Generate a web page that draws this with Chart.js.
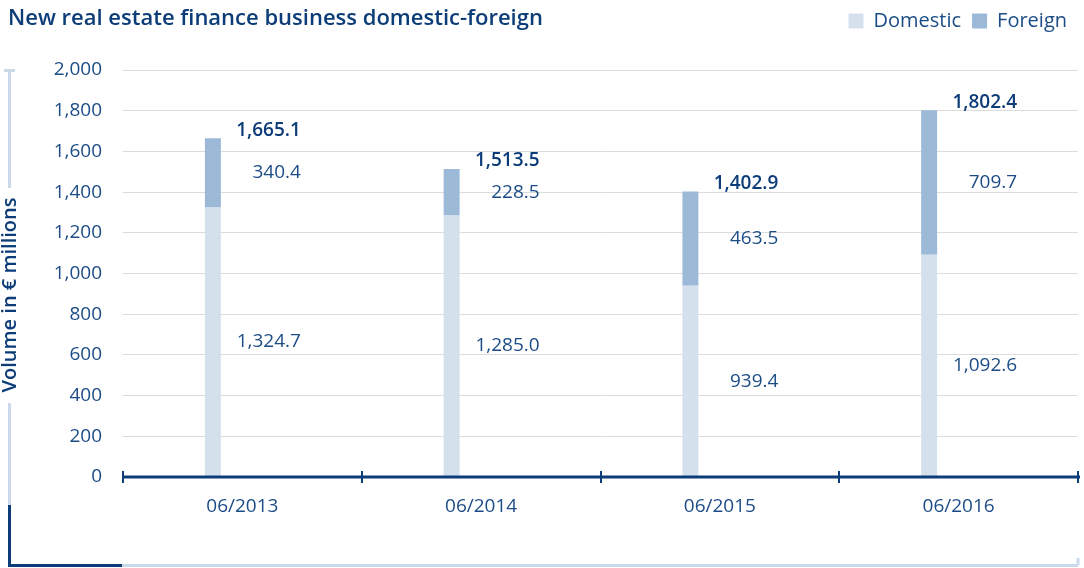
<!DOCTYPE html>
<html>
<head>
<meta charset="utf-8">
<script src="https://cdn.jsdelivr.net/npm/chart.js@4.4.1/dist/chart.umd.min.js"></script>
<style>
  html, body { margin: 0; padding: 0; background: #fff; }
  #wrap { width: 1084px; height: 568px; position: relative; }
</style>
</head>
<body>
<div id="wrap"><canvas id="myChart"></canvas></div>
<script>
const categories = ['06/2013', '06/2014', '06/2015', '06/2016'];
const domestic = [1324.7, 1285.0, 939.4, 1092.6];
const foreign = [340.4, 228.5, 463.5, 709.7];
const totals = [1665.1, 1513.5, 1402.9, 1802.4];
const yMin = 0, yMax = 2000, yStep = 200;

const FONT = '"Open Sans", "Noto Sans", sans-serif';
const DARK = '#0d3d78';
const TEXT = '#1c4c86';
const LIGHT = '#cbdaea';

const fmt = v => v.toLocaleString('en-US', { minimumFractionDigits: 1, maximumFractionDigits: 1 });

// push the plot down below the legend row
const legendGap = {
    id: 'legendGap',
    beforeInit(chart) {
        const fit = chart.legend.fit;
        chart.legend.fit = function () {
            fit.bind(chart.legend)();
            this.height += 29;
        };
    }
};

// title, y axis caption and the frame lines round the chart
const framePlugin = {
    id: 'frame',
    afterDraw(chart) {
        const { ctx, chartArea: { left, right, bottom } } = chart;
        ctx.save();
        ctx.fillStyle = DARK;
        ctx.font = '600 22px ' + FONT;
        ctx.textBaseline = 'alphabetic';
        ctx.fillText('New real estate finance business domestic-foreign', 8, 25);

        // y caption
        ctx.save();
        ctx.translate(10, 295);
        ctx.rotate(-Math.PI / 2);
        ctx.textAlign = 'center';
        ctx.textBaseline = 'middle';
        ctx.font = '600 20px ' + FONT;
        ctx.fillText('Volume in \u20ac millions', 0, 0);
        ctx.restore();

        ctx.lineWidth = 3;
        ctx.strokeStyle = LIGHT;
        ctx.beginPath();
        ctx.moveTo(4, 70.5); ctx.lineTo(15, 70.5);
        ctx.moveTo(9.5, 70); ctx.lineTo(9.5, 188);
        ctx.moveTo(9.5, 403); ctx.lineTo(9.5, 505);
        ctx.moveTo(122, 565.5); ctx.lineTo(1078, 565.5);
        ctx.moveTo(1078, 565); ctx.lineTo(1078, 558);
        ctx.stroke();

        ctx.strokeStyle = DARK;
        ctx.beginPath();
        ctx.moveTo(9.5, 505); ctx.lineTo(9.5, 565.5); ctx.lineTo(122, 565.5);
        ctx.stroke();

        // x axis with tick marks at category bounds
        const n = categories.length;
        ctx.lineWidth = 3;
        ctx.beginPath();
        ctx.moveTo(left, bottom); ctx.lineTo(right + 2, bottom);
        ctx.stroke();
        ctx.lineWidth = 2;
        ctx.beginPath();
        for (let i = 0; i <= n; i++) {
            const x = Math.round(left + i * (right - left) / n);
            ctx.moveTo(x, bottom - 6); ctx.lineTo(x, bottom + 6);
        }
        ctx.stroke();
        ctx.restore();
    }
};

const valueLabels = {
    id: 'valueLabels',
    afterDatasetsDraw(chart) {
        const { ctx } = chart;
        const dom = chart.getDatasetMeta(0).data;
        const frn = chart.getDatasetMeta(1).data;
        ctx.save();
        ctx.textAlign = 'right';
        ctx.textBaseline = 'middle';
        dom.forEach((bar, i) => {
            const xr = bar.x + 88;
            const f = frn[i];
            ctx.fillStyle = TEXT;
            ctx.font = '19px ' + FONT;
            ctx.fillText(fmt(domestic[i]), xr, (bar.y + bar.base) / 2);
            ctx.fillText(fmt(foreign[i]), xr, (f.y + f.base) / 2);
            ctx.font = '600 19px ' + FONT;
            ctx.fillStyle = DARK;
            ctx.fillText(fmt(totals[i]), xr, f.y - 8);
        });
        ctx.restore();
    }
};

new Chart(document.getElementById('myChart'), {
    type: 'bar',
    plugins: [legendGap, valueLabels, framePlugin],
    data: {
        labels: categories,
        datasets: [
            { label: 'Domestic', data: domestic, backgroundColor: '#d4e1ed', stack: 'a' },
            { label: 'Foreign', data: foreign, backgroundColor: '#9cbad7', stack: 'a' },
            // empty slot so the bars sit left of the category centre
            { label: '', data: categories.map(() => 0), backgroundColor: 'rgba(0,0,0,0)', stack: 'b' }
        ]
    },
    options: {
        responsive: true,
        maintainAspectRatio: false,
        animation: false,
        categoryPercentage: 0.494,
        barPercentage: 0.271,
        layout: { padding: { top: 0, right: 6, bottom: 0, left: 0 } },
        plugins: {
            tooltip: { enabled: false },
            title: { display: false },
            legend: {
                position: 'top',
                align: 'end',
                labels: {
                    boxWidth: 15,
                    boxHeight: 15,
                    padding: 11,
                    color: TEXT,
                    font: { size: 20, family: FONT },
                    filter: item => item.datasetIndex < 2
                }
            }
        },
        scales: {
            x: {
                grid: { display: false, drawTicks: false },
                border: { display: false },
                ticks: { color: TEXT, font: { size: 19, family: FONT }, padding: 18 },
                afterFit: scale => { scale.height = 91; }
            },
            y: {
                min: yMin,
                max: yMax,
                stacked: true,
                ticks: {
                    stepSize: yStep,
                    color: TEXT,
                    padding: 21,
                    font: { size: 19, family: FONT },
                    callback: v => v.toLocaleString('en-US')
                },
                grid: { color: '#dcdcdc', drawTicks: false },
                border: { display: false },
                afterFit: scale => { scale.width = 123; }
            }
        }
    }
});
</script>
</body>
</html>
